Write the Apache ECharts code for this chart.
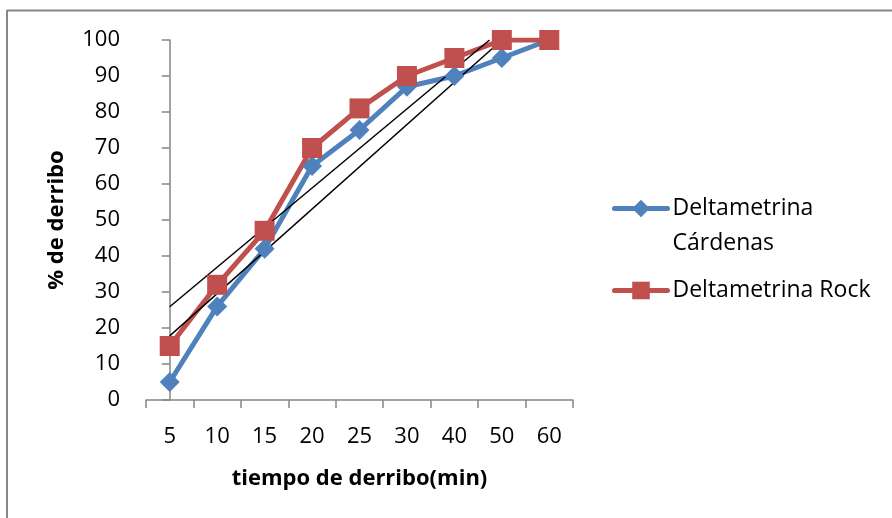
<!DOCTYPE html>
<html>
<head>
<meta charset="utf-8">
<script src="https://cdn.jsdelivr.net/npm/echarts@6/dist/echarts.min.js"></script>
<style>html,body{margin:0;padding:0;background:#fff;}#c{width:892px;height:518px;}</style>
</head>
<body>
<div id="c"></div>
<script>
const categories = ['5','10','15','20','25','30','40','50','60'];
const cardenas = [5, 26, 42, 65, 75, 87, 90, 95, 100];
const rock = [15, 32, 47, 70, 81, 90, 95, 100, 100];
// hand-drawn trend lines: [category index, value]
const trendUpper = [[0, 25.9], [6.74, 100]];
const trendLower = [[0, 17.8], [7.0, 100]];
const yTicks = {min: 0, max: 100, interval: 10};

const FONT = 'Open Sans';
const AXIS = '#868686';
const nameA = 'Deltametrina\nCárdenas';
const nameB = 'Deltametrina Rock';

const legendCommon = {
  orient: 'vertical', left: 612, padding: 0,
  itemWidth: 53, itemHeight: 22, itemGap: 5,
  lineStyle: {width: 5, cap: 'round'},
  textStyle: {fontFamily: FONT, fontSize: 23, color: '#000', lineHeight: 35}
};

const chart = echarts.init(document.getElementById('c'));
chart.setOption({
  backgroundColor: '#fff',
  animation: false,
  textStyle: {fontFamily: FONT},
  graphic: [
    {type: 'line', shape: {x1: 7, y1: 10.5, x2: 892, y2: 10.5}, style: {stroke: AXIS, lineWidth: 2}},
    {type: 'line', shape: {x1: 7, y1: 10, x2: 7, y2: 518}, style: {stroke: AXIS, lineWidth: 2}}
  ],
  grid: {left: 146, right: 319, top: 40, bottom: 118},
  legend: [
    Object.assign({}, legendCommon, {
      data: [nameA], top: 156,
      formatter: function (n) { return '\n' + n; }
    }),
    Object.assign({}, legendCommon, {
      data: [nameB], top: 273
    })
  ],
  xAxis: [
    {
      type: 'category', data: categories, boundaryGap: true,
      name: 'tiempo de derribo(min)', nameLocation: 'middle', nameGap: 68,
      nameTextStyle: {fontFamily: FONT, fontSize: 22, fontWeight: 'bold', color: '#000'},
      axisLine: {lineStyle: {color: AXIS, width: 1.5}},
      axisTick: {show: true, length: 8, lineStyle: {color: AXIS, width: 1.5}},
      axisLabel: {fontFamily: FONT, fontSize: 22, color: '#000', margin: 26, interval: 0},
      splitLine: {show: false}
    },
    {
      type: 'value', min: -0.5, max: 8.5, show: false
    }
  ],
  yAxis: {
    type: 'value', min: yTicks.min, max: yTicks.max, interval: yTicks.interval,
    name: '% de derribo', nameLocation: 'middle', nameGap: 78, nameRotate: 90,
    nameTextStyle: {fontFamily: FONT, fontSize: 22, fontWeight: 'bold', color: '#000'},
    axisLine: {show: true, lineStyle: {color: AXIS, width: 1.5}},
    axisTick: {show: true, length: 8, lineStyle: {color: AXIS, width: 1.5}},
    axisLabel: {fontFamily: FONT, fontSize: 22, color: '#000', margin: 26},
    splitLine: {show: false}
  },
  series: [
    {
      name: nameA, type: 'line', data: cardenas,
      symbol: 'diamond', symbolSize: 20,
      lineStyle: {color: '#4F81BD', width: 5},
      itemStyle: {color: '#4F81BD'}
    },
    {
      name: nameB, type: 'line', data: rock,
      symbol: 'rect', symbolSize: 20,
      lineStyle: {color: '#C0504D', width: 5},
      itemStyle: {color: '#C0504D'}
    },
    {
      name: 'trend1', type: 'line', xAxisIndex: 1, data: trendUpper,
      symbol: 'none', lineStyle: {color: '#000', width: 1.5}, silent: true
    },
    {
      name: 'trend2', type: 'line', xAxisIndex: 1, data: trendLower,
      symbol: 'none', lineStyle: {color: '#000', width: 1.5}, silent: true
    }
  ]
});
</script>
</body>
</html>
